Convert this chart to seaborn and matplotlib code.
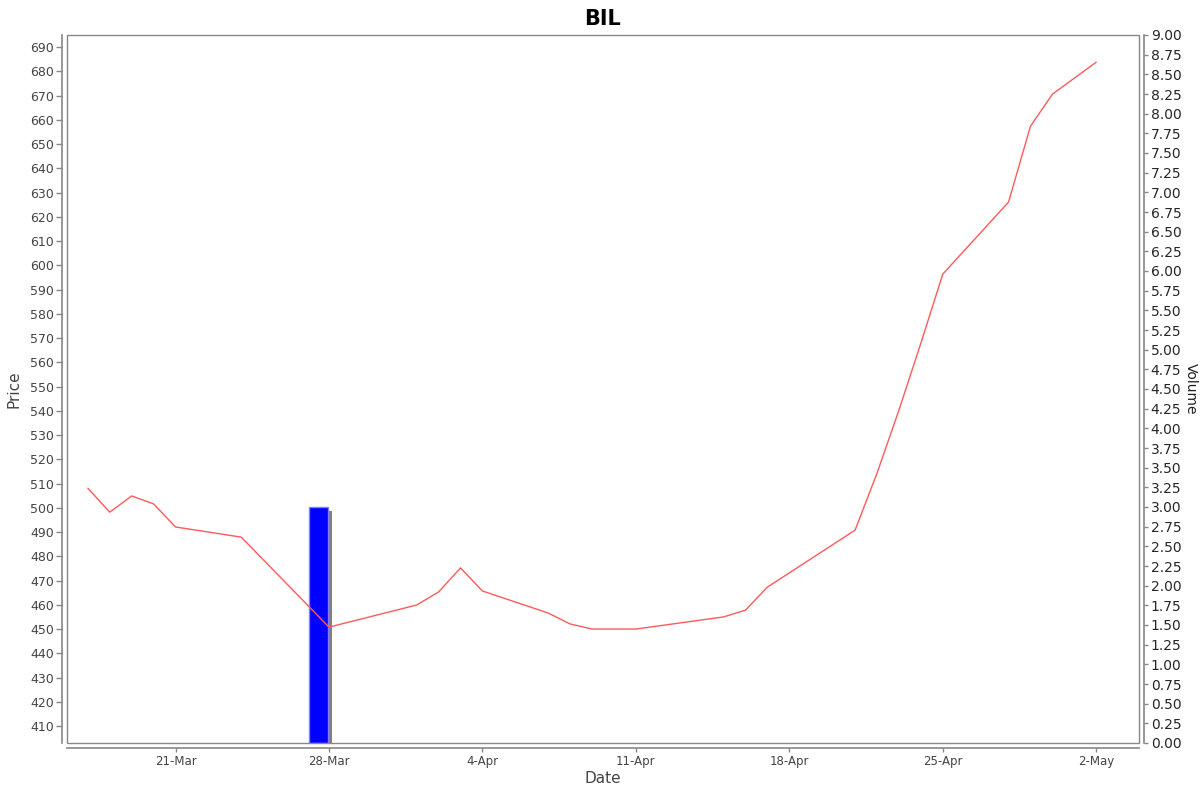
import matplotlib
matplotlib.use("Agg")
import matplotlib.pyplot as plt
import matplotlib.dates as mdates
from matplotlib.patches import Rectangle
import pandas as pd
import seaborn as sns

# price series
price_dates = [
    "2024-03-17", "2024-03-18", "2024-03-19", "2024-03-20", "2024-03-21",
    "2024-03-24", "2024-03-28", "2024-04-01", "2024-04-02", "2024-04-03",
    "2024-04-04", "2024-04-07", "2024-04-08", "2024-04-09", "2024-04-11",
    "2024-04-15", "2024-04-16", "2024-04-17", "2024-04-21", "2024-04-22",
    "2024-04-23", "2024-04-24", "2024-04-25", "2024-04-28", "2024-04-29",
    "2024-04-30", "2024-05-02",
]
prices = [
    508.1, 498.2, 504.9, 501.6, 492.1,
    487.9, 450.8, 459.9, 465.3, 475.2,
    465.7, 456.6, 452.1, 450.0, 450.0,
    455.0, 457.8, 467.3, 490.8, 514.3,
    540.3, 567.9, 596.4, 626.1, 657.4,
    670.6, 683.8,
]

# volume
volume_dates = ["2024-03-27"]
volumes = [3.0]

tick_dates = ["2024-03-21", "2024-03-28", "2024-04-04", "2024-04-11",
              "2024-04-18", "2024-04-25", "2024-05-02"]
tick_labels = ["21-Mar", "28-Mar", "4-Apr", "11-Apr", "18-Apr", "25-Apr", "2-May"]

price_df = pd.DataFrame({"Date": pd.to_datetime(price_dates), "Price": prices})
vol_df = pd.DataFrame({"Date": pd.to_datetime(volume_dates), "Volume": volumes})

sns.set_style("white")
plt.rcParams["font.family"] = ["DejaVu Sans"]

GREY = "#888888"

fig = plt.figure(figsize=(12, 7.92), dpi=100)
ax = fig.add_axes([67 / 1200, 1 - 743 / 792, (1139 - 67) / 1200, (743 - 35) / 792])
ax2 = ax.twinx()

# volume bars (behind price line), with a grey drop shadow
bar_start = mdates.date2num(vol_df["Date"]) + 0.1
ax2.bar(bar_start + 0.18, vol_df["Volume"] - 0.05, width=0.84, align="edge",
        color="#808080", zorder=1, linewidth=0)
ax2.bar(bar_start, vol_df["Volume"], width=0.84, align="edge",
        color="#0000ff", edgecolor="#8080ff", linewidth=1.0, zorder=2)
ax2.set_ylim(0, 9)
ax2.set_yticks([i * 0.25 for i in range(37)])
ax2.set_yticklabels([f"{i * 0.25:.2f}" for i in range(37)], fontsize=6.3, color="#222222")
ax2.set_ylabel("Volume", rotation=270, labelpad=12, fontsize=10, color="#222222")

ax.set_zorder(ax2.get_zorder() + 1)
ax.patch.set_visible(False)

sns.lineplot(data=price_df, x="Date", y="Price", ax=ax, color="#ff5a5a",
             linewidth=1.0, zorder=3)

ax.set_xlim(mdates.date2num(pd.Timestamp("2024-03-16")) + 0.05,
            mdates.date2num(pd.Timestamp("2024-05-03")) + 0.95)
ax.set_ylim(403, 695)
ax.set_yticks(range(410, 691, 10))
ax.tick_params(axis="y", labelsize=9, labelcolor="#444444", color=GREY, length=4, width=1,
               direction="out", left=True, pad=2)
ax.set_xticks(mdates.date2num(pd.to_datetime(tick_dates)))
ax.set_xticklabels(tick_labels)
ax.tick_params(axis="x", labelsize=8.5, labelcolor="#444444", color=GREY, length=3, width=1,
               direction="out", bottom=True, pad=2)
ax2.tick_params(axis="y", color=GREY, length=3, width=1, direction="out", right=True, pad=2)

ax.set_xlabel("Date", fontsize=11, color="#444444", labelpad=2)
ax.set_ylabel("Price", fontsize=11, color="#444444", labelpad=6)
ax.set_title("BIL", fontsize=15, fontweight="bold", pad=7, color="black")

# plot frame and offset axis lines
for a in (ax, ax2):
    for s in a.spines.values():
        s.set_visible(False)
ax.spines["left"].set_visible(True)
ax.spines["bottom"].set_visible(True)
ax2.spines["right"].set_visible(True)
for s in (ax.spines["left"], ax.spines["bottom"], ax2.spines["right"]):
    s.set_color(GREY)
    s.set_linewidth(1.2)
    s.set_position(("outward", 3.5))
ax.add_patch(Rectangle((0, 0), 1, 1, transform=ax.transAxes, fill=False,
                       edgecolor=GREY, linewidth=1.0, clip_on=False, zorder=5))

fig.savefig("out.png", dpi=100)
